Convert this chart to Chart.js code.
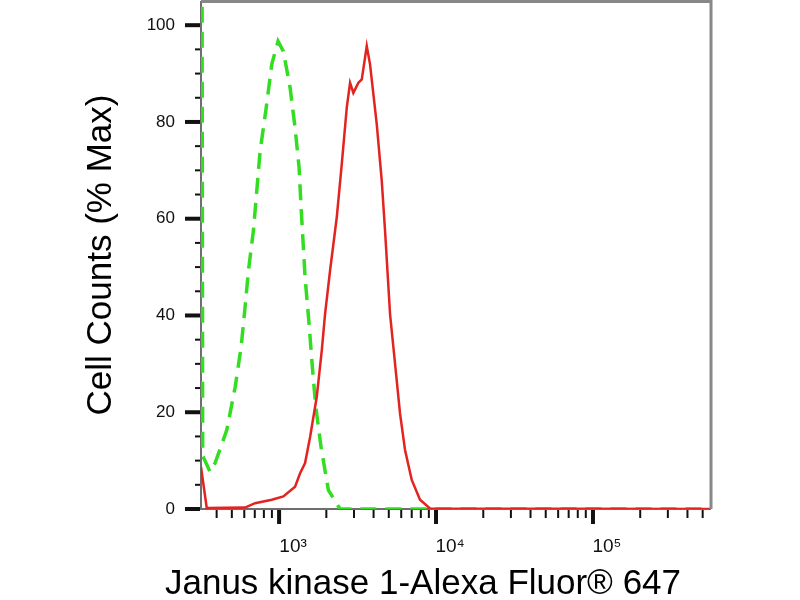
<!DOCTYPE html>
<html>
<head>
<meta charset="utf-8">
<script src="https://cdn.jsdelivr.net/npm/chart.js@4"></script>
<style>
  html, body { margin: 0; padding: 0; background: #fff; }
  canvas { display: block; }
</style>
</head>
<body>
<canvas id="histChart" width="800" height="600"></canvas>
<script>
// isotype control (green dashed)
var controlX = [322, 326, 363, 391, 464, 525, 573, 607, 638, 686, 721, 757, 823, 898, 985,
                1065, 1175, 1264, 1341, 1381, 1428, 1464, 1552, 1630, 1713, 1851, 2061, 2446, 2630, 565000];
var controlY = [140, 11, 7.7, 9.5, 16.3, 25.2, 33.5, 41.7, 49.3, 57.5, 65.8, 74, 82.3, 91.9, 96.7,
                94.6, 87.1, 78.8, 70.6, 62.3, 54.1, 47.9, 38.3, 29.3, 21.1, 12.8, 3.9, 0, 0, 0];

// Janus kinase 1 stained sample (red)
var sampleX = [318, 346, 607, 703, 898, 1065, 1264, 1361, 1464, 1576, 1738, 1871, 1964, 2113,
               2331, 2508, 2700, 2833, 2974, 3201, 3364, 3619, 3798, 4192, 4510, 4734, 5093,
               5482, 5898, 6346, 7002, 7907, 9159, 565000];
var sampleY = [8.7, 0.2, 0.3, 1.2, 1.9, 2.6, 4.6, 7.4, 9.5, 14.9, 23.2, 32.8, 40.4, 49.3,
               60.3, 71.3, 83, 88.1, 86, 88.1, 88.8, 95.7, 91.9, 79.5, 67.8, 57.5, 40.3,
               30, 19.7, 12.2, 6, 1.9, 0.1, 0];

var xMajorTicks = [1000, 10000, 100000];
var xMinorTicks = [400, 500, 600, 700, 800, 900,
                   2000, 3000, 4000, 5000, 6000, 7000, 8000, 9000,
                   20000, 30000, 40000, 50000, 60000, 70000, 80000, 90000,
                   200000, 300000, 400000, 500000];
var xTickLabels = { 1000: '10³', 10000: '10⁴', 100000: '10⁵' };
var yTicks = [0, 5, 10, 15, 20, 25, 30, 35, 40, 45, 50, 55, 60, 65, 70, 75, 80, 85, 90, 95, 100];
var yLabelTicks = [0, 20, 40, 60, 80, 100];

function toPoints(xs, ys) {
    return xs.map(function (v, i) { return { x: v, y: ys[i] }; });
}

var fontFamily = "'Liberation Sans', Arial, Helvetica, sans-serif";

// no extra room for the first/last tick label
function noLabelPadding(scale) {
    scale.paddingTop = 0;
    scale.paddingBottom = 0;
    scale.paddingLeft = 0;
    scale.paddingRight = 0;
}

// axis lines under the data, frame and tick marks on top
var axisPlugin = {
    id: 'axisPlugin',
    beforeDatasetsDraw: function (chart) {
        var ctx = chart.ctx, a = chart.chartArea;
        ctx.save();
        ctx.strokeStyle = '#6e6e6e';
        ctx.lineWidth = 2;
        ctx.beginPath();
        ctx.moveTo(a.left, a.top);
        ctx.lineTo(a.left, a.bottom);
        ctx.lineTo(a.right, a.bottom);
        ctx.stroke();
        ctx.restore();
    },
    afterDatasetsDraw: function (chart) {
        var ctx = chart.ctx, a = chart.chartArea;
        var xs = chart.scales.x, ys = chart.scales.y;
        ctx.save();
        ctx.strokeStyle = '#888888';
        ctx.lineWidth = 3;
        ctx.beginPath();
        ctx.moveTo(a.left, a.top + 0.5);
        ctx.lineTo(a.right, a.top + 0.5);
        ctx.lineTo(a.right, a.bottom);
        ctx.stroke();

        ctx.strokeStyle = '#111';
        xs.ticks.forEach(function (t) {
            var px = xs.getPixelForValue(t.value);
            var major = xMajorTicks.indexOf(t.value) >= 0;
            ctx.lineWidth = major ? 4 : 2;
            ctx.beginPath();
            ctx.moveTo(px, a.bottom + 1);
            ctx.lineTo(px, a.bottom + (major ? 15 : 9));
            ctx.stroke();
        });
        ys.ticks.forEach(function (t) {
            var py = ys.getPixelForValue(t.value);
            var major = yLabelTicks.indexOf(t.value) >= 0;
            ctx.lineWidth = major ? 4 : 2;
            ctx.beginPath();
            ctx.moveTo(a.left - 1, py);
            ctx.lineTo(a.left - (major ? 16 : 6), py);
            ctx.stroke();
        });
        ctx.restore();
    }
};

var ctx = document.getElementById('histChart').getContext('2d');
var histChart = new Chart(ctx, {
    type: 'line',
    data: {
        datasets: [{
            label: 'JAK1',
            data: toPoints(sampleX, sampleY),
            borderColor: '#e3231f',
            borderWidth: 2.5,
            pointRadius: 0,
            tension: 0
        }, {
            label: 'Isotype',
            data: toPoints(controlX, controlY),
            borderColor: '#33dd22',
            borderWidth: 3.5,
            borderDash: [16, 9],
            pointRadius: 0,
            tension: 0
        }]
    },
    options: {
        responsive: false,
        animation: false,
        devicePixelRatio: 1,
        layout: { autoPadding: false, padding: { top: 1, right: 0, left: 46, bottom: 0 } },
        plugins: {
            legend: { display: false },
            tooltip: { enabled: false },
            title: {
                display: true,
                position: 'bottom',
                text: 'Janus kinase 1-Alexa Fluor® 647',
                color: '#000',
                padding: 0,
                font: { family: fontFamily, size: 35, weight: 'normal', lineHeight: 0.9 }
            }
        },
        scales: {
            x: {
                type: 'logarithmic',
                min: 318,
                max: 565000,
                grid: { display: false, drawTicks: false },
                border: { display: false },
                afterBuildTicks: function (scale) {
                    scale.ticks = xMinorTicks.concat(xMajorTicks).sort(function (p, q) { return p - q; })
                        .map(function (v) { return { value: v }; });
                },
                afterFit: function (scale) { scale.height = 59.5; noLabelPadding(scale); },
                ticks: {
                    autoSkip: false,
                    maxRotation: 0,
                    padding: 26,
                    labelOffset: 14,
                    color: '#111',
                    font: { family: fontFamily, size: 19 },
                    callback: function (value) { return xTickLabels[value] || ''; }
                }
            },
            y: {
                type: 'linear',
                min: 0,
                max: 105,
                grid: { display: false, drawTicks: false },
                border: { display: false },
                afterBuildTicks: function (scale) {
                    scale.ticks = yTicks.map(function (v) { return { value: v }; });
                },
                afterFit: function (scale) { scale.width = 155; noLabelPadding(scale); },
                ticks: {
                    autoSkip: false,
                    padding: 26,
                    color: '#111',
                    font: { family: fontFamily, size: 17 },
                    callback: function (value) { return yLabelTicks.indexOf(value) >= 0 ? String(value) : ''; }
                },
                title: {
                    display: true,
                    text: 'Cell Counts (% Max)',
                    color: '#000',
                    padding: { top: 41, bottom: 0 },
                    font: { family: fontFamily, size: 35, lineHeight: 0.8 }
                }
            },
            // empty right-hand axis that only reserves the margin on the right
            yRight: {
                type: 'linear',
                position: 'right',
                min: 0,
                max: 105,
                grid: { display: false, drawTicks: false },
                border: { display: false },
                ticks: { display: false },
                afterFit: function (scale) { scale.width = 89; noLabelPadding(scale); }
            }
        }
    },
    plugins: [axisPlugin]
});
</script>
</body>
</html>
